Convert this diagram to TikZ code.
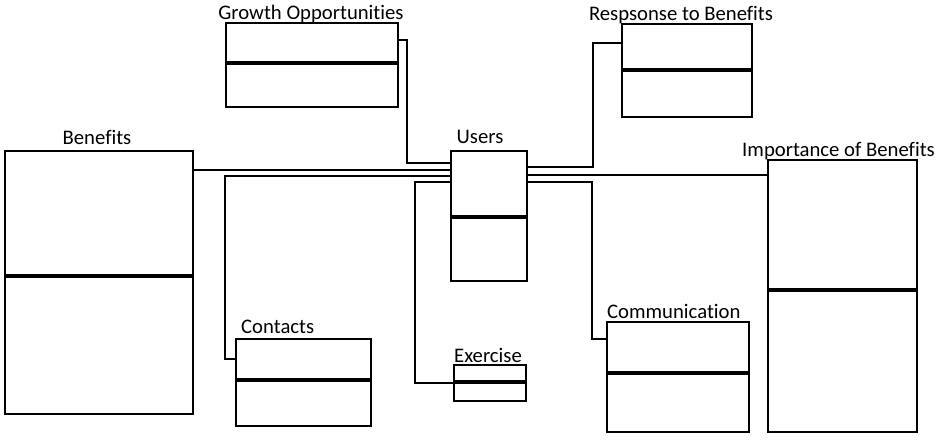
\documentclass[tikz,border=0pt]{standalone}
\usepackage{fontspec}
\setmainfont{Carlito}[Ligatures=NoCommon]
\tikzset{
  classbox/.style={rectangle, draw, line width=2.2pt, anchor=north west, inner sep=0pt, outer sep=0pt, fill=white},
  divider/.style={line width=3.2pt},
  boxtitle/.style={anchor=base, inner sep=0pt},
  conn/.style={line width=2pt}
}

\begin{document}
\begin{tikzpicture}[x=1pt, y=-1pt, font={\fontsize{20.7pt}{24pt}\selectfont}]
  \useasboundingbox (0,0) rectangle (941,443);
  % boxes
  \node [classbox, minimum width=172pt, minimum height=84pt] (growth) at (226,23) {};
  \node [classbox, minimum width=130pt, minimum height=93pt] (response) at (622,24) {};
  \node [classbox, minimum width=76pt, minimum height=130pt] (users) at (451,151) {};
  \node [classbox, minimum width=188pt, minimum height=263pt] (benefits) at (5,151) {};
  \node [classbox, minimum width=149pt, minimum height=272pt] (importance) at (768,160) {};
  \node [classbox, minimum width=142pt, minimum height=110pt] (communication) at (607,322) {};
  \node [classbox, minimum width=135pt, minimum height=87pt] (contacts) at (236,339) {};
  \node [classbox, minimum width=72pt, minimum height=36pt] (exercise) at (454,365) {};
  % dividers
  \draw [divider] ([yshift=-40pt]growth.north west) -- ([yshift=-40pt]growth.north east);
  \draw [divider] ([yshift=-46pt]response.north west) -- ([yshift=-46pt]response.north east);
  \draw [divider] ([yshift=-66pt]users.north west) -- ([yshift=-66pt]users.north east);
  \draw [divider] ([yshift=-125pt]benefits.north west) -- ([yshift=-125pt]benefits.north east);
  \draw [divider] ([yshift=-130pt]importance.north west) -- ([yshift=-130pt]importance.north east);
  \draw [divider] ([yshift=-51pt]communication.north west) -- ([yshift=-51pt]communication.north east);
  \draw [divider] ([yshift=-41pt]contacts.north west) -- ([yshift=-41pt]contacts.north east);
  \draw [divider] ([yshift=-17pt]exercise.north west) -- ([yshift=-17pt]exercise.north east);
  % titles
  \node [boxtitle] (growthTitle) at ([xshift=-1pt,yshift=3pt]growth.north) {Growth Opportunities};
  \node [boxtitle] (responseTitle) at ([xshift=-6pt,yshift=3pt]response.north) {Respsonse to Benefits};
  \node [boxtitle] (usersTitle) at ([xshift=-9pt,yshift=7pt]users.north) {Users};
  \node [boxtitle] (benefitsTitle) at ([xshift=-2pt,yshift=6pt]benefits.north) {Benefits};
  \node [boxtitle] (importanceTitle) at ([xshift=-4pt,yshift=3pt]importance.north) {Importance of Benefits};
  \node [boxtitle, anchor=base west] (communicationTitle) at ([yshift=4pt]communication.north west) {Communication};
  \node [boxtitle, anchor=base west] (contactsTitle) at ([xshift=5pt,yshift=6pt]contacts.north west) {Contacts};
  \node [boxtitle, anchor=base west] (exerciseTitle) at ([yshift=3pt]exercise.north west) {Exercise};
  % connectors
  \draw [conn] ([yshift=-12pt]users.north west) -| ([xshift=9pt,yshift=-17pt]growth.north east) -- ([yshift=-17pt]growth.north east);
  \draw [conn] ([yshift=-19pt]benefits.north east) -- ([yshift=-19pt]users.north west);
  \draw [conn] ([yshift=-25pt]users.north west) -| ([xshift=-11pt,yshift=-20pt]contacts.north west) -- ([yshift=-20pt]contacts.north west);
  \draw [conn] ([yshift=-31pt]users.north west) -| ([xshift=-39pt]exercise.west) -- (exercise.west);
  \draw [conn] ([yshift=-16pt]users.north east) -| ([xshift=-29pt,yshift=-19pt]response.north west) -- ([yshift=-19pt]response.north west);
  \draw [conn] ([yshift=-24pt]users.north east) -- ([yshift=-24pt]users.north east -| importance.west);
  \draw [conn] ([yshift=-31pt]users.north east) -| ([xshift=-15pt,yshift=-17pt]communication.north west) -- ([yshift=-17pt]communication.north west);
\end{tikzpicture}
\end{document}
